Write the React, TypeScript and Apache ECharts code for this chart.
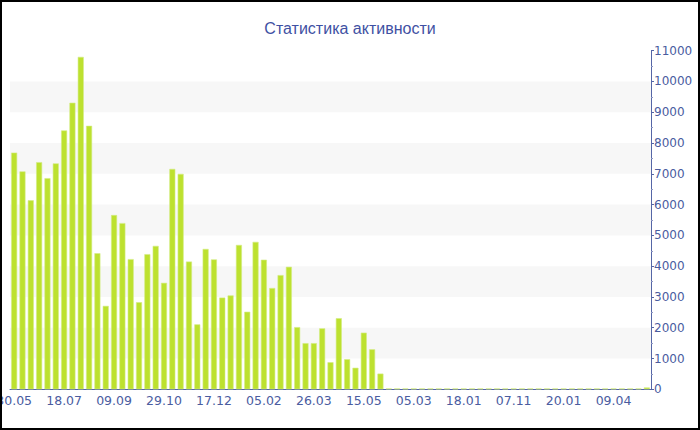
import React, { useEffect, useRef } from "react";
import * as echarts from "echarts";

const TITLE = "Статистика активности";
const TICK_LABELS = ["30.05", "18.07", "09.09", "29.10", "17.12", "05.02", "26.03", "15.05", "05.03", "18.01", "07.11", "20.01", "09.04"];
const ACTIVE_VALUES = [
  7690, 7080, 6140, 7380, 6860, 7340, 8410, 9310, 10800, 8560,
  4420, 2710, 5660, 5400, 4230, 2830, 4390, 4660, 3460, 7160,
  7000, 4150, 2110, 4560, 4220, 2980, 3050, 4690, 2520, 4790,
  4210, 3290, 3710, 3980, 2020, 1500, 1500, 1980, 880, 2310,
  980, 700, 1840, 1300, 510,
];
const TAIL_VALUES = [
  25, 25, 25, 25, 25, 25, 25, 25, 25, 25,
  25, 25, 25, 25, 25, 25, 25, 25, 25, 25,
  25, 25, 25, 25, 25, 25, 25, 25, 25, 25,
  25, 60,
];
const Y_MAX = 11000;
const Y_STEP = 1000;

export default function App() {
  const ref = useRef<HTMLDivElement>(null);
  useEffect(() => {
    document.body.style.margin = "0";
    if (!ref.current) return;
    const chart = echarts.init(ref.current, undefined, { renderer: "svg" });
    const values = [...ACTIVE_VALUES, ...TAIL_VALUES];
    const cats = values.map((_, i) => String(i));
    const axisColor = "#5566a6";
    const textColor = "#4a5c9f";
    chart.setOption({
      animation: false,
      title: {
        text: TITLE,
        left: "center",
        top: 13,
        textStyle: { color: "#3f51a3", fontSize: 16, fontWeight: "normal", fontFamily: "Liberation Sans" },
      },
      grid: { left: 8, right: 47, top: 48.7, bottom: 38.7, containLabel: false, outerBoundsMode: "none" },
      xAxis: {
        type: "category",
        data: cats,
        axisLine: { lineStyle: { color: axisColor } },
        axisTick: { alignWithLabel: true, interval: 5, length: 4, lineStyle: { color: axisColor } },
        axisLabel: {
          interval: 5,
          color: textColor,
          fontSize: 12.5,
          fontFamily: "DejaVu Sans",
          margin: 5,
          formatter: (_v: string, idx: number) => TICK_LABELS[Math.floor(idx / 6)] ?? "",
        },
        splitLine: { show: false },
      },
      yAxis: {
        type: "value",
        position: "right",
        min: 0,
        max: Y_MAX,
        interval: Y_STEP,
        axisLine: { show: true, lineStyle: { color: axisColor } },
        axisTick: { show: true, length: 3, lineStyle: { color: axisColor } },
        minorTick: { show: true, splitNumber: 2, length: 2, lineStyle: { color: "#8f99c4" } },
        axisLabel: { color: textColor, fontSize: 12, fontFamily: "DejaVu Sans", margin: 3, formatter: (v: number) => String(v) },
        splitLine: { show: false },
        splitArea: { show: true, areaStyle: { color: ["rgba(0,0,0,0)", "#f7f7f7"] } },
      },
      series: [
        {
          type: "bar",
          data: values,
          barWidth: 6,
          itemStyle: { color: "#bde12f", borderColor: "#d3ec84", borderWidth: 0.6 },
        },
      ],
    });
    return () => chart.dispose();
  }, []);
  return (
    <div style={{ width: 700, height: 430, border: "2px solid #000", boxSizing: "border-box", background: "#fff", overflow: "hidden" }}>
      <div ref={ref} style={{ width: 696, height: 426 }} />
    </div>
  );
}
